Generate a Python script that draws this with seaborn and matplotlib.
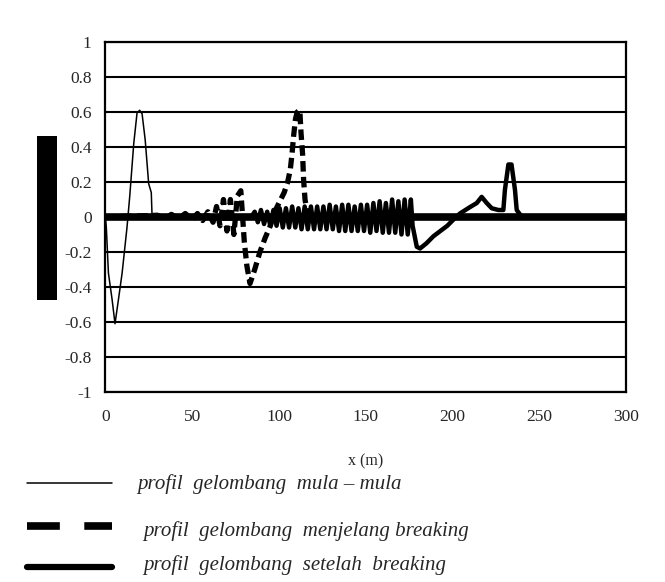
import pandas as pd
import matplotlib.pyplot as plt
import seaborn as sns
from matplotlib.lines import Line2D
from matplotlib.patches import Rectangle

# Data: wave profiles along the channel
x_initial = [0, 0.5, 1.7, 3.8, 5.5, 7.5, 9.6, 12.4, 14.0, 16.3, 18.2, 19.7, 21.1, 22.9, 24.9, 26.4, 26.8, 28, 300]
eta_initial = [0, -0.06, -0.32, -0.47, -0.61, -0.47, -0.32, -0.06, 0.12, 0.42, 0.595, 0.61, 0.59, 0.44, 0.19, 0.14, 0.02, 0, 0]

x_before = [0, 30, 34, 38, 42, 46, 50, 53, 56, 59, 62, 64, 66, 68, 70, 72, 74, 76, 78, 80, 81.5, 83.3,
            86, 89, 92, 95, 98, 101, 103, 105, 106.5, 107.5, 108.4, 109.5, 110.5, 112, 112.7, 113.6, 114.2,
            115, 116, 118, 300]
eta_before = [0, 0.01, -0.01, 0.015, -0.01, 0.02, -0.015, 0.02, -0.02, 0.03, -0.03, 0.06, -0.05, 0.1, -0.08, 0.1,
              -0.1, 0.12, 0.15, -0.14, -0.28, -0.38,
              -0.3, -0.2, -0.12, -0.05, 0.04, 0.1, 0.14, 0.2, 0.27, 0.36, 0.46, 0.56, 0.6, 0.61, 0.48, 0.36, 0.21,
              0.1, 0.04, 0, 0]

x_after = [0, 84, 86.0, 87.8, 89.6, 91.4, 93.2, 95.0, 96.8, 98.6, 100.4, 102.2, 104.0, 105.8, 107.6, 109.4,
           111.2, 113.0, 114.8, 116.6, 118.4, 120.2, 122.0, 123.8, 125.6, 127.4, 129.2, 131.0, 132.8, 134.6,
           136.4, 138.2, 140.0, 141.8, 143.6, 145.4, 147.2, 149.0, 150.8, 152.6, 154.4, 156.2, 158.0, 159.8,
           161.6, 163.4, 165.2, 167.0, 168.8, 170.6, 172.4, 174.2, 176.0, 177.0, 179.4, 181.3, 185, 189, 193,
           197, 201, 204.3, 209, 214, 216.8, 219.7, 222.6, 226.4, 229.3, 230.2, 232.2, 234, 236, 237, 240, 300]
eta_after = [0, 0, 0.03, -0.03, 0.04, -0.04, 0.03, -0.05, 0.04, -0.05, 0.05, -0.06, 0.05, -0.06, 0.06, -0.06,
             0.05, -0.07, 0.06, -0.07, 0.06, -0.07, 0.06, -0.07, 0.06, -0.07, 0.07, -0.07, 0.06, -0.08,
             0.07, -0.08, 0.07, -0.08, 0.06, -0.08, 0.07, -0.08, 0.07, -0.09, 0.08, -0.08, 0.09, -0.09,
             0.08, -0.09, 0.1, -0.09, 0.09, -0.1, 0.1, -0.1, 0.1, -0.05, -0.17, -0.18, -0.15, -0.11, -0.08,
             -0.05, -0.01, 0.02, 0.05, 0.08, 0.115, 0.08, 0.05, 0.04, 0.04, 0.155, 0.3, 0.3, 0.155, 0.04, 0, 0]

legend_labels = ['profil  gelombang  mula – mula',
                 'profil  gelombang  menjelang breaking',
                 'profil  gelombang  setelah  breaking']
y_ticks = [1, 0.8, 0.6, 0.4, 0.2, 0, -0.2, -0.4, -0.6, -0.8, -1]
y_tick_labels = ['1', '0.8', '0.6', '0.4', '0.2', '0', '-0.2', '-0.4', '-0.6', '-0.8', '-1']
x_ticks = [0, 50, 100, 150, 200, 250, 300]

df_initial = pd.DataFrame({'x': x_initial, 'eta': eta_initial})
df_before = pd.DataFrame({'x': x_before, 'eta': eta_before})
df_after = pd.DataFrame({'x': x_after, 'eta': eta_after})

sns.set_style('white')
plt.rcParams['font.family'] = ['Liberation Serif', 'DejaVu Serif']

fig = plt.figure(figsize=(6.65, 5.82), dpi=100)
ax = fig.add_axes([0.1586, 0.3265, 0.7828, 0.6013])

for yv in y_ticks:
    ax.axhline(yv, color='black', lw=1.5, zorder=1)
ax.axhline(0, color='black', lw=5.5, zorder=2)

sns.lineplot(data=df_after, x='x', y='eta', sort=False, estimator=None, color='black', lw=3.2, ax=ax, zorder=3)
sns.lineplot(data=df_before, x='x', y='eta', sort=False, estimator=None, color='black', lw=3.8,
             dashes=False, ax=ax, zorder=4).lines[-1].set_dashes((2.0, 1.0))
sns.lineplot(data=df_initial, x='x', y='eta', sort=False, estimator=None, color='black', lw=1.1, ax=ax, zorder=5)

ax.set_xlim(0, 300)
ax.set_ylim(-1, 1)
ax.set_xticks(x_ticks)
ax.set_xticklabels([str(v) for v in x_ticks])
ax.set_yticks(y_ticks)
ax.set_yticklabels(y_tick_labels)
ax.tick_params(axis='both', direction='out', length=4, width=1.5, color='black', labelsize=12.5)
ax.tick_params(axis='x', pad=8)
ax.tick_params(axis='y', pad=6)
for s in ax.spines.values():
    s.set_color('black')
    s.set_linewidth(1.6)
ax.set_xlabel('x (m)', fontsize=11.5, labelpad=21)
ax.set_ylabel('')

# black box where the y label would be
fig.add_artist(Rectangle((0.0556, 0.4845), 0.030, 0.2818, transform=fig.transFigure,
                         facecolor='black', edgecolor='none'))

# legend below the plot
W, H = 665, 582
def fx(px):
    return px / W
def fy(py):
    return 1 - py / H

fig.add_artist(Line2D([fx(27), fx(112)], [fy(483), fy(483)], color='black', lw=1.1))
fig.add_artist(Line2D([fx(27), fx(112)], [fy(526), fy(526)], color='black', lw=5.5, dashes=(4.3, 3.2)))
fig.add_artist(Line2D([fx(27), fx(112)], [fy(567), fy(567)], color='black', lw=4.5))
fig.text(fx(137), fy(484), legend_labels[0], style='italic', fontsize=15, va='center')
fig.text(fx(143), fy(531), legend_labels[1], style='italic', fontsize=15, va='center')
fig.text(fx(143), fy(565), legend_labels[2], style='italic', fontsize=15, va='center')

fig.savefig('out.png', dpi=100)
